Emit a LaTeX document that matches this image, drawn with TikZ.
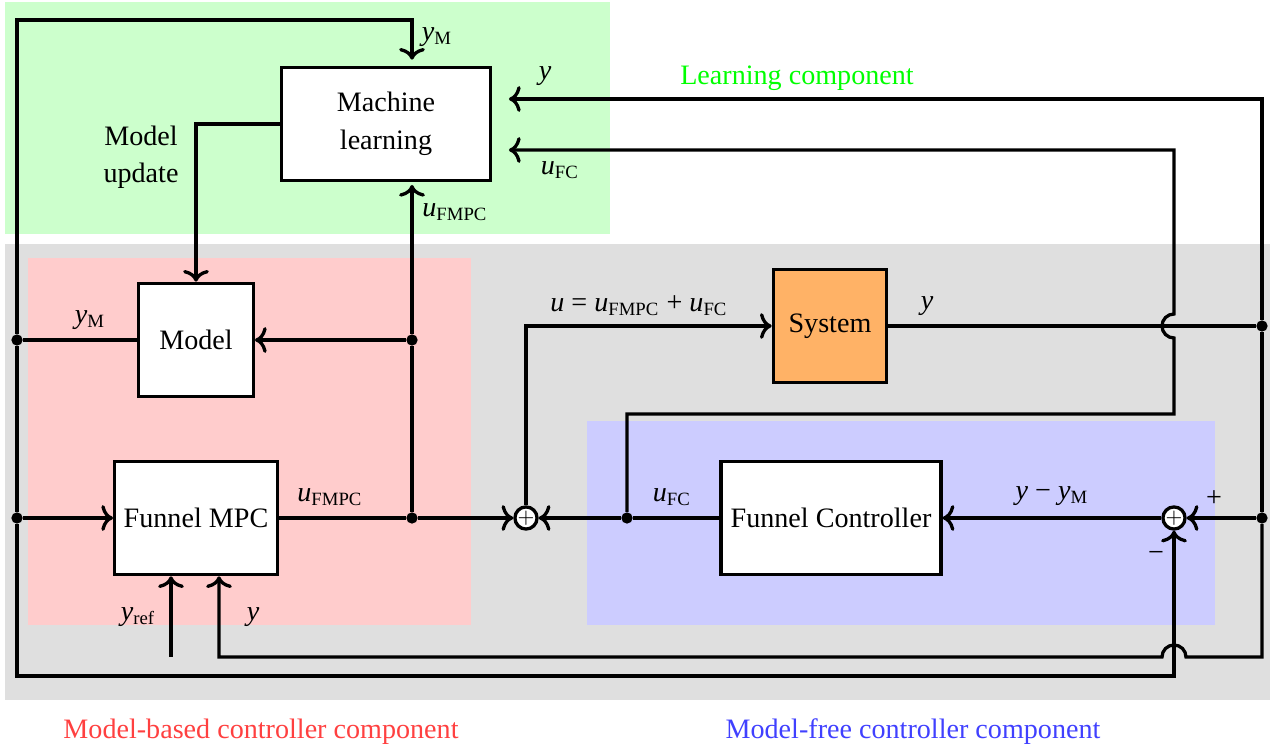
\documentclass[tikz,border=0pt]{standalone}
\usepackage{amsmath}
\usepackage{fontspec}
\setmainfont{Liberation Serif}
\usetikzlibrary{positioning}
\usetikzlibrary{calc}
\usetikzlibrary{arrows.meta}
\newcommand{\sig}[2]{\textit{#1}\textsubscript{#2}}

\begin{document}
\begin{tikzpicture}[x=0.015cm,y=-0.015cm,font=\fontsize{12}{16}\selectfont,
                    >={To[length=5pt,width=11pt]}]

          \tikzstyle{blockNode} = [draw, line width=1.4pt, fill=white, align=center, inner sep=0pt, minimum height=1.7cm];
          \tikzstyle{sumNode} = [draw, line width=1.4pt, circle, fill=white, inner sep=0pt, minimum size=0.3cm, font=\small];
          \tikzstyle{dotNode} = [circle, fill=black, inner sep=0pt, minimum size=0.17cm];
          \tikzstyle{labelNode} = [black];

          \tikzstyle{sigEdge} = [line width=1.4pt];
          \tikzstyle{arrowEdge} = [line width=1.4pt, ->];

          \useasboundingbox (0,0) rectangle (1272,748);

          % component areas
          \fill[green!20] (5,2) rectangle (610,234);
          \fill[gray!25] (5,244) rectangle (1270,700);
          \fill[red!20] (28,258) rectangle (471,625);
          \fill[blue!20] (587,421) rectangle (1215,625);

          \node[green] (learnText) at (797,78) {Learning component};
          \node[red!75] (mbText) at (261,732) {Model-based controller component};
          \node[blue!75] (mfText) at (913,732) {Model-free controller component};

          % blocks
          \node[blockNode, minimum width=3.14cm] (ml) at (386,124) {Machine\\learning};
          \node[blockNode, minimum width=1.72cm] (model) at (196,340) {Model};
          \node[blockNode, minimum width=2.44cm] (fmpc) at (196,518) {Funnel MPC};
          \node[blockNode, fill=orange!60, minimum width=1.7cm, minimum height=1.69cm] (sys) at (830,326) {System};
          \node[blockNode, minimum width=3.3cm] (fc) at (831,518) {Funnel Controller};

          \node[sumNode] (sum1) at (526,518) {$+$};
          \node[sumNode] (sum2) at (1174,518) {$+$};

          % branch points
          \node[dotNode] (dYm) at (17,340) {};
          \node[dotNode] (dYmb) at (17,518) {};
          \node[dotNode] (dU) at (412,518) {};
          \node[dotNode] (dUm) at (412,340) {};
          \node[dotNode] (dUfc) at (627,518) {};
          \node[dotNode] (dY) at (1262,326) {};
          \node[dotNode] (dYb) at (1262,518) {};

          \coordinate (topY) at (412,20);
          \coordinate (botY) at (1174,676);
          \coordinate (fcUp) at (1174,414);
          \coordinate (yJump) at (1174,657);
          \coordinate (yref) at (171,657);

          % signals
          \draw[sigEdge] (model.west) -- (dYm);
          \draw[arrowEdge, shorten >=0.09cm] (dYm) |- (topY) -- (topY |- ml.north);
          \draw[sigEdge] (dYm) -- (dYmb);
          \draw[arrowEdge] (dYmb) |- (botY) -- (sum2.south);
          \draw[arrowEdge] (dYmb) -- (fmpc.west);
          \draw[sigEdge] (fmpc.east) -- (dU);
          \draw[arrowEdge] (dU) -- (sum1.west);
          \draw[sigEdge] (dU) -- (dUm);
          \draw[arrowEdge, shorten >=0.04cm] (dUm) -- (dUm |- ml.south);
          \draw[arrowEdge] (dUm) -- (model.east);
          \draw[arrowEdge] (ml.west) -| (model.north);
          \draw[arrowEdge] (sum1.north) |- (sys.west);
          \draw[sigEdge] (sys.east) -- (dY);
          \draw[arrowEdge, shorten >=0.25cm] (dY) |- ([yshift=0.375cm]ml.east);
          \draw[sigEdge] (dY) -- (dYb);
          \draw[arrowEdge] (dYb) -- (sum2.east);
          \draw[arrowEdge] (sum2.west) -- (fc.east);
          \draw[sigEdge] (fc.west) -- (dUfc);
          \draw[arrowEdge] (dUfc) -- (sum1.east);
          \draw[arrowEdge, shorten >=0.25cm] (dUfc) |- (fcUp) -- ($(fcUp |- dY)+(0,12)$)
                arc[start angle=-90, end angle=-270, radius=0.18cm] |- ([yshift=-0.39cm]ml.east);
          \draw[arrowEdge] (dYb) |- ($(yJump)+(12,0)$)
                arc[start angle=0, end angle=180, radius=0.18cm] -| ([xshift=0.345cm]fmpc.south);
          \draw[arrowEdge] (yref) -- (yref |- fmpc.south);

          % labels
          \node[labelNode] (lYmTop) at (437,37) {\sig{y}{M}};
          \node[labelNode] (lYml) at (545,76) {\textit{y}};
          \node[labelNode] (lUfcml) at (560,170) {\sig{u}{FC}};
          \node[labelNode] (lUml) at (455,212) {\sig{u}{FMPC}};
          \node[labelNode, align=center] (lUpdate) at (141,157) {Model\\update};
          \node[labelNode] (lYmModel) at (90,320) {\sig{y}{M}};
          \node[labelNode] (lUsys) at (639,306) {\textit{u} = \sig{u}{FMPC} + \sig{u}{FC}};
          \node[labelNode] (lYsys) at (927,306) {\textit{y}};
          \node[labelNode] (lUfmpc) at (330,497) {\sig{u}{FMPC}};
          \node[labelNode] (lUfc) at (672,497) {\sig{u}{FC}};
          \node[labelNode] (lErr) at (1052,496) {\textit{y} − \sig{y}{M}};
          \node[labelNode] (lPlus) at (1214,499) {+};
          \node[labelNode] (lMinus) at (1156,556) {−};
          \node[labelNode] (lYref) at (138,617) {\sig{y}{ref}};
          \node[labelNode] (lYfmpc) at (253,617) {\textit{y}};
        \end{tikzpicture}
\end{document}
